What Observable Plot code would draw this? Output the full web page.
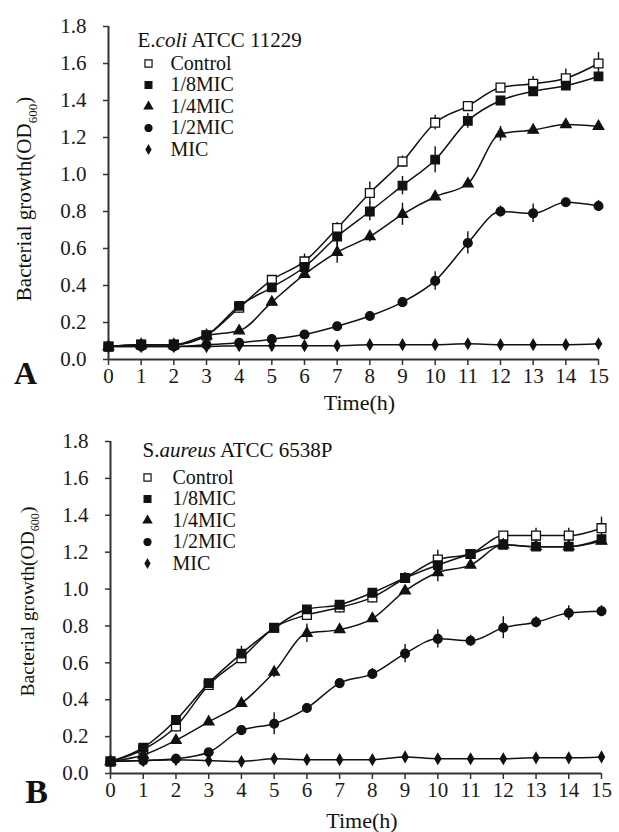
<!DOCTYPE html>
<html><head><meta charset="utf-8">
<script src="https://cdn.jsdelivr.net/npm/d3@7"></script>
<script src="https://cdn.jsdelivr.net/npm/@observablehq/plot@0.6"></script>
<style>
body{margin:0;background:#fff;}
#chart{width:619px;}
#chart svg{display:block;}
#chart svg text{font-family:'Liberation Serif','Times New Roman',serif;}
</style>
</head><body><div id="chart"></div>
<script>
const hours = [0,1,2,3,4,5,6,7,8,9,10,11,12,13,14,15];
const yTicks = [0,0.2,0.4,0.6,0.8,1.0,1.2,1.4,1.6,1.8];
const treatments = ["Control","1/8MIC","1/4MIC","1/2MIC","MIC"];

// Panel A: E.coli ATCC 11229
const ecoliControl = [0.07,0.08,0.08,0.13,0.28,0.43,0.53,0.71,0.90,1.07,1.28,1.37,1.47,1.49,1.52,1.60];
const ecoliMIC8    = [0.07,0.08,0.08,0.13,0.29,0.39,0.50,0.665,0.80,0.94,1.08,1.29,1.40,1.45,1.48,1.53];
const ecoliMIC4    = [0.07,0.08,0.08,0.13,0.155,0.31,0.46,0.58,0.665,0.785,0.88,0.95,1.22,1.24,1.27,1.26];
const ecoliMIC2    = [0.07,0.07,0.07,0.08,0.09,0.11,0.135,0.18,0.235,0.31,0.425,0.63,0.80,0.79,0.85,0.83];
const ecoliMIC     = [0.07,0.07,0.07,0.07,0.075,0.075,0.075,0.075,0.08,0.08,0.08,0.085,0.08,0.08,0.08,0.085];
const ecoliErrControl = [0.01,0.01,0.01,0.01,0.03,0.02,0.04,0.03,0.06,0.03,0.04,0.02,0.01,0.04,0.05,0.06];
const ecoliErrMIC8    = [0.01,0.01,0.01,0.01,0.02,0.02,0.03,0.05,0.05,0.05,0.07,0.04,0.01,0.02,0.02,0.02];
const ecoliErrMIC4    = [0.01,0.01,0.01,0.01,0.02,0.01,0.02,0.06,0.03,0.06,0.01,0.01,0.04,0.02,0.02,0.01];
const ecoliErrMIC2    = [0.01,0.01,0.01,0.01,0.02,0.01,0.01,0.01,0.01,0.01,0.05,0.06,0.03,0.05,0.02,0.03];
const ecoliErrMIC     = [0.005,0.005,0.005,0.005,0.005,0.005,0.005,0.005,0.005,0.005,0.005,0.005,0.005,0.005,0.005,0.005];

// Panel B: S.aureus ATCC 6538P
const aureusControl = [0.065,0.13,0.255,0.48,0.625,0.79,0.86,0.90,0.955,1.06,1.16,1.19,1.29,1.29,1.29,1.33];
const aureusMIC8    = [0.065,0.14,0.29,0.49,0.65,0.79,0.89,0.915,0.98,1.06,1.13,1.19,1.24,1.23,1.23,1.27];
const aureusMIC4    = [0.065,0.10,0.18,0.28,0.38,0.55,0.76,0.78,0.84,0.99,1.09,1.13,1.24,1.23,1.23,1.26];
const aureusMIC2    = [0.065,0.07,0.08,0.115,0.235,0.27,0.355,0.49,0.54,0.65,0.73,0.72,0.79,0.82,0.87,0.88];
const aureusMIC     = [0.065,0.07,0.075,0.07,0.065,0.08,0.075,0.075,0.075,0.09,0.08,0.08,0.08,0.085,0.085,0.09];
const aureusErrControl = [0.01,0.02,0.03,0.02,0.03,0.02,0.02,0.03,0.03,0.03,0.05,0.02,0.02,0.04,0.04,0.06];
const aureusErrMIC8    = [0.01,0.02,0.02,0.02,0.04,0.02,0.02,0.02,0.02,0.02,0.03,0.02,0.02,0.02,0.02,0.02];
const aureusErrMIC4    = [0.01,0.01,0.01,0.01,0.01,0.03,0.05,0.01,0.01,0.02,0.05,0.02,0.02,0.02,0.02,0.02];
const aureusErrMIC2    = [0.01,0.01,0.01,0.01,0.02,0.06,0.01,0.01,0.03,0.05,0.05,0.03,0.06,0.03,0.04,0.03];
const aureusErrMIC     = [0.005,0.005,0.005,0.005,0.005,0.005,0.005,0.005,0.005,0.01,0.005,0.005,0.005,0.005,0.005,0.005];

const markerStyle = {
  "Control": {symbol: "square",   fill: "#fff",  r: 5.0},
  "1/8MIC":  {symbol: "square",   fill: "#111",  r: 4.8},
  "1/4MIC":  {symbol: "triangle", fill: "#111",  r: 3.9},
  "1/2MIC":  {symbol: "circle",   fill: "#111",  r: 4.4},
  "MIC":     {symbol: "diamond",  fill: "#111",  r: 3.2}
};
const FONT = "'Liberation Serif','Times New Roman',serif";

function richText(svg, cls, parts) {
  svg.querySelectorAll("." + cls + " text").forEach(t => {
    t.textContent = "";
    for (const p of parts) {
      const ts = document.createElementNS("http://www.w3.org/2000/svg", "tspan");
      ts.textContent = p.text;
      if (p.italic) ts.setAttribute("font-style", "italic");
      if (p.sub) { ts.setAttribute("font-size", "0.62em"); ts.setAttribute("dy", "0.45em"); }
      if (p.unsub) { ts.setAttribute("dy", "-0.28em"); }
      t.appendChild(ts);
    }
  });
}

function panel(cfg) {
  const rows = [];
  treatments.forEach((tr, i) => {
    hours.forEach((h, j) => rows.push({treatment: tr, t: h, v: cfg.series[i][j], e: cfg.errors[i][j]}));
  });
  const marks = [
    Plot.ruleY([0], {stroke: "#333", strokeWidth: 2}),
    Plot.ruleX([0], {y1: 0, y2: 1.8, stroke: "#333", strokeWidth: 2}),
    Plot.axisY(yTicks, {tickFormat: d => d.toFixed(1), tickSize: 5, tickPadding: 17, fontSize: 21, fontFamily: FONT, stroke: "#333", strokeWidth: 1.5, label: null}),
    Plot.axisX(hours, {tickSize: 6, tickPadding: 3, fontSize: 21, fontFamily: FONT, stroke: "#333", strokeWidth: 1.5, label: null}),
    Plot.ruleX(rows, {x: "t", y1: d => d.v - d.e, y2: d => d.v + d.e, stroke: "#111", strokeWidth: 1.4}),
    Plot.line(rows, {x: "t", y: "v", z: "treatment", stroke: "#111", strokeWidth: 1.5, curve: "monotone-x"})
  ];
  treatments.forEach(tr => {
    const s = markerStyle[tr];
    marks.push(Plot.dot(rows.filter(d => d.treatment === tr), {x: "t", y: "v", symbol: () => s.symbol, r: s.r, fill: s.fill, stroke: "#111", strokeWidth: 1.3}));
  });
  // legend
  treatments.forEach((tr, i) => {
    const s = markerStyle[tr];
    marks.push(Plot.dot([tr], {frameAnchor: "top-left", dx: cfg.legSym, dy: cfg.legTop + i * cfg.legStep, symbol: () => s.symbol, r: s.r * 0.8, fill: s.fill, stroke: "#111", strokeWidth: 1.2}));
    marks.push(Plot.text([tr], {frameAnchor: "top-left", dx: cfg.legText, dy: cfg.legTop + i * cfg.legStep, textAnchor: "start", lineAnchor: "middle", fontSize: 20, fontFamily: FONT, fill: "#111"}));
  });
  marks.push(Plot.text([cfg.title.join("")], {frameAnchor: "top-left", dx: cfg.titleDx, dy: cfg.titleDy, textAnchor: "start", lineAnchor: "middle", fontSize: 21, fontFamily: FONT, fill: "#111", className: "ptitle"}));
  marks.push(Plot.text(["Bacterial growth(OD600)"], {frameAnchor: "left", dx: cfg.ylabDx, dy: cfg.ylabDy, rotate: -90, textAnchor: "middle", lineAnchor: "middle", fontSize: cfg.ylabSize, fontFamily: FONT, fill: "#111", className: "ylab"}));
  marks.push(Plot.text(["Time(h)"], {frameAnchor: "bottom", dx: 6, dy: cfg.xlabDy, textAnchor: "middle", lineAnchor: "middle", fontSize: 22, fontFamily: FONT, fill: "#111"}));
  marks.push(Plot.text([cfg.letter], {frameAnchor: "bottom-left", dx: cfg.letterDx, dy: cfg.letterDy, textAnchor: "middle", lineAnchor: "middle", fontSize: cfg.letterSize, fontFamily: FONT, fontWeight: "bold", fill: "#111"}));

  const svg = Plot.plot({
    width: 619, height: 416,
    marginTop: cfg.mt, marginBottom: cfg.mb, marginLeft: cfg.ml, marginRight: cfg.mr,
    x: {domain: [0, 15]},
    y: {domain: [0, 1.8]},
    style: {fontFamily: FONT, fontSize: "21px", color: "#1a1a1a", background: "#fff", overflow: "visible"},
    marks
  });
  richText(svg, "ptitle", [{text: cfg.title[0]}, {text: cfg.title[1], italic: true}, {text: cfg.title[2]}]);
  richText(svg, "ylab", [{text: "Bacterial growth(OD"}, {text: "600", sub: true}, {text: ")", unsub: true}]);
  return svg;
}

const chart = document.getElementById("chart");
chart.appendChild(panel({
  series: [ecoliControl, ecoliMIC8, ecoliMIC4, ecoliMIC2, ecoliMIC],
  errors: [ecoliErrControl, ecoliErrMIC8, ecoliErrMIC4, ecoliErrMIC2, ecoliErrMIC],
  title: ["E.", "coli", " ATCC 11229"], letter: "A",
  mt: 26, mb: 57, ml: 108, mr: 21,
  legSym: 40, legText: 62, legTop: 37, legStep: 21.5,
  titleDx: 29, titleDy: 14,
  ylabDx: -84, ylabDy: 6, ylabSize: 21,
  xlabDy: 43, letterDx: -83, letterDy: 14, letterSize: 32
}));
chart.appendChild(panel({
  series: [aureusControl, aureusMIC8, aureusMIC4, aureusMIC2, aureusMIC],
  errors: [aureusErrControl, aureusErrMIC8, aureusErrMIC4, aureusErrMIC2, aureusErrMIC],
  title: ["S.", "aureus", " ATCC 6538P"], letter: "B",
  mt: 25, mb: 59, ml: 110, mr: 18,
  legSym: 37, legText: 62, legTop: 36, legStep: 21.5,
  titleDx: 32, titleDy: 9,
  ylabDx: -83, ylabDy: -6, ylabSize: 19.5,
  xlabDy: 47, letterDx: -74, letterDy: 19, letterSize: 34
}));
</script>
</body></html>
